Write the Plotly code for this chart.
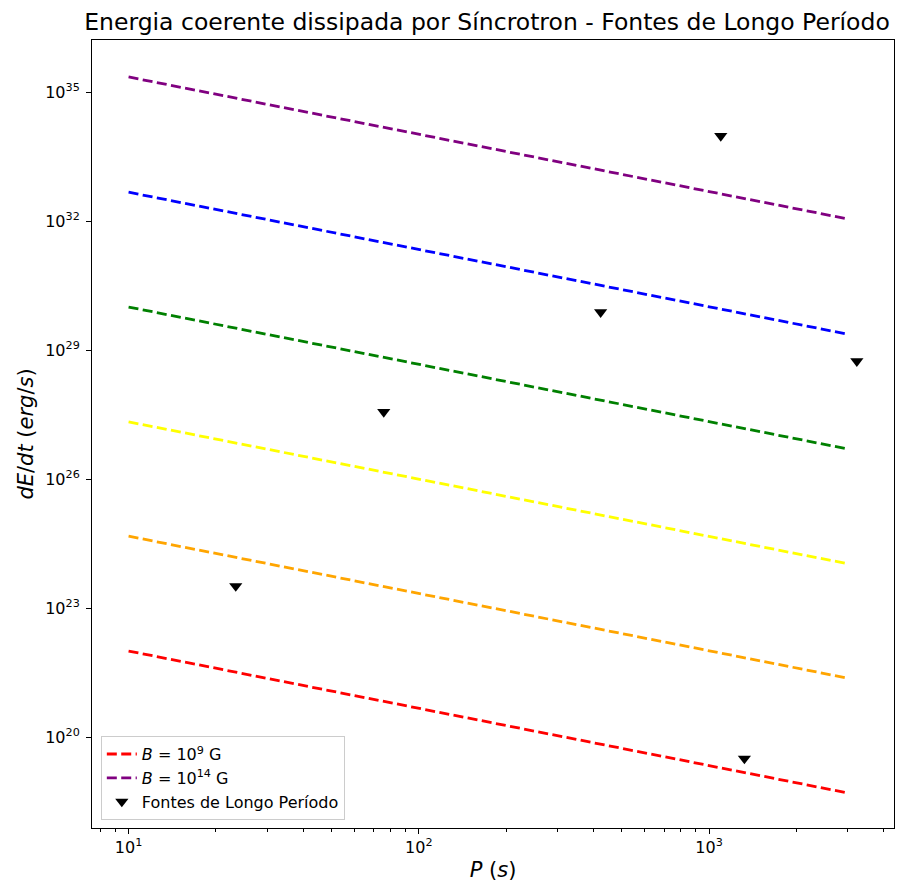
import plotly.graph_objects as go

# ---- data ----
P_line = [10, 3000]                      # period range of the model lines (s)
E_B9 = [1e22, 10**18.70]                 # B = 1e9 G
E_B10 = [10**24.67, 10**21.37]           # B = 1e10 G
E_B11 = [10**27.33, 10**24.03]           # B = 1e11 G
E_B12 = [1e30, 10**26.70]                # B = 1e12 G
E_B13 = [10**32.67, 10**29.37]           # B = 1e13 G
E_B14 = [10**35.35, 10**32.05]           # B = 1e14 G

src_P = [23.4, 75.7, 423, 1097, 1323, 3228]
src_E = [10**23.51, 10**27.56, 10**29.88, 10**33.98, 10**19.50, 10**28.74]

x_tickvals = [10, 100, 1000]
x_ticktext = ["10<sup>1</sup>", "10<sup>2</sup>", "10<sup>3</sup>"]
y_tickvals = [1e20, 1e23, 1e26, 1e29, 1e32, 1e35]
y_ticktext = ["10<sup>20</sup>", "10<sup>23</sup>", "10<sup>26</sup>",
              "10<sup>29</sup>", "10<sup>32</sup>", "10<sup>35</sup>"]

FONT = "DejaVu Sans"
dash = "10px,4.4px"
lw = 2.8

fig = go.Figure()
lines = [
    (E_B9, "red", "<i>B</i> = 10<sup>9</sup> G", True),
    (E_B10, "orange", "B10", False),
    (E_B11, "yellow", "B11", False),
    (E_B12, "green", "B12", False),
    (E_B13, "blue", "B13", False),
    (E_B14, "purple", "<i>B</i> = 10<sup>14</sup> G", True),
]
for E, col, name, show in lines:
    fig.add_trace(go.Scatter(x=P_line, y=E, mode="lines", name=name,
                             showlegend=show,
                             line=dict(color=col, width=lw, dash=dash)))

fig.add_trace(go.Scatter(x=src_P, y=src_E, mode="markers",
                         name="Fontes de Longo Período",
                         marker=dict(symbol="triangle-down", color="black", size=11.5,
                                     line=dict(width=0))))

minor_x = [v * m for v in (1, 10, 100, 1000) for m in range(2, 10)]
fig.update_layout(
    width=907, height=888,
    margin=dict(l=92, r=13, t=40, b=60),
    paper_bgcolor="white", plot_bgcolor="white",
    font=dict(family=FONT, color="black", size=16),
    title=dict(text="Energia coerente dissipada por Síncrotron - Fontes de Longo Período",
               x=487 / 907, xanchor="center", y=1 - 22 / 888, yanchor="middle",
               font=dict(size=23.5, family=FONT)),
    showlegend=True,
    legend=dict(x=0.011, y=0.010, xanchor="left", yanchor="bottom",
                bgcolor="rgba(255,255,255,0.8)", bordercolor="#cccccc", borderwidth=1,
                font=dict(size=16, family=FONT), tracegroupgap=0,
                itemwidth=30),
)
fig.update_xaxes(
    type="log", range=[0.874, 3.637], automargin=False,
    showline=True, linecolor="black", linewidth=1, mirror=True,
    showgrid=False, zeroline=False,
    ticks="outside", ticklen=5, tickwidth=1, tickcolor="black",
    tickmode="array", tickvals=x_tickvals, ticktext=x_ticktext,
    tickfont=dict(size=16),
    minor=dict(ticks="outside", ticklen=3, tickwidth=0.8, tickcolor="black",
               tickmode="array", tickvals=minor_x, showgrid=False),
    title=dict(text="<i>P</i> (<i>s</i>)", font=dict(size=21), standoff=6),
)
fig.update_yaxes(
    type="log", range=[17.884, 36.21], automargin=False,
    showline=True, linecolor="black", linewidth=1, mirror=True,
    showgrid=False, zeroline=False,
    ticks="outside", ticklen=5, tickwidth=1, tickcolor="black",
    tickmode="array", tickvals=y_tickvals, ticktext=y_ticktext,
    tickfont=dict(size=16), ticklabelstandoff=3,
    title=dict(text="<i>dE</i>/<i>dt</i> (<i>erg</i>/<i>s</i>)", font=dict(size=21), standoff=5),
)

fig.write_html("out.html", config={"displayModeBar": False},
               post_script="document.body.style.margin='0';document.body.style.overflow='hidden';")
